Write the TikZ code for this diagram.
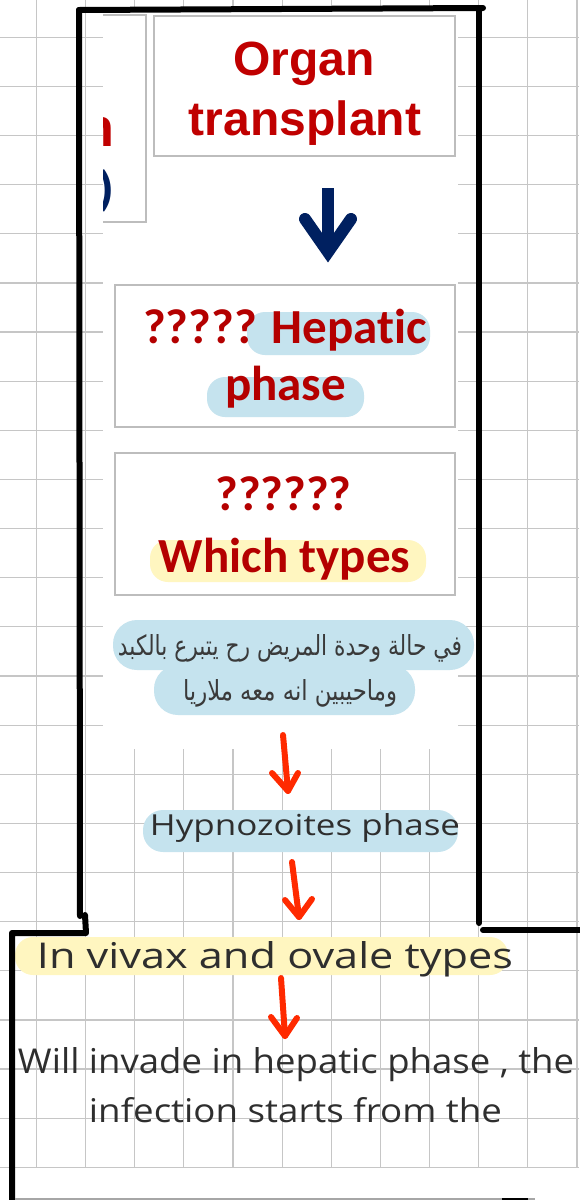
\documentclass[tikz,border=0pt]{standalone}
\usepackage{graphicx}
\usepackage{fontspec}
\setmainfont{Liberation Sans}
\newfontfamily\arialf{Liberation Sans}
\newfontfamily\calf[Ligatures={NoCommon}]{Carlito}
\newfontfamily\handf{Open Sans}
\newfontfamily\arabicfont[Script=Arabic]{DejaVu Sans}
\TeXXeTstate=1
\definecolor{gridc}{HTML}{C6C6C6}
\definecolor{boxc}{HTML}{BDBDBD}
\definecolor{darkred}{HTML}{C00000}
\definecolor{qred}{HTML}{B40000}
\definecolor{navyc}{HTML}{002060}
\definecolor{hlblue}{HTML}{C5E3EE}
\definecolor{hlyellow}{HTML}{FFF6C0}
\definecolor{pen}{HTML}{2E2E2E}
\definecolor{arabc}{HTML}{3A3A3A}
\definecolor{redpen}{HTML}{FF2A00}
\tikzset{
  gridline/.style={draw=gridc, line width=1.2pt},
  graybox/.style={draw=boxc, line width=2pt, inner sep=0pt, outer sep=0pt},
  boxtxt/.style={anchor=base, inner sep=0pt, text=darkred, font=\arialf\bfseries\fontsize{48}{56}\selectfont},
  qtxt/.style={anchor=base, inner sep=0pt, text=qred, font=\calf\bfseries\fontsize{49}{56}\selectfont},
  hand/.style={anchor=base, inner sep=0pt, text=pen},
  artxt/.style={anchor=base, inner sep=0pt, text=arabc},
  hlb/.style={fill=hlblue, rounded corners=18pt},
  hly/.style={fill=hlyellow, rounded corners=18pt},
  redarrow/.style={draw=redpen, line width=6pt, line cap=round, line join=round},
  framel/.style={draw=black, line width=6pt, line cap=round, line join=round},
}
\begin{document}
\begin{tikzpicture}[x=1pt,y=-1pt]
\useasboundingbox (0,0) rectangle (579,1200);
% grid
\foreach \i in {0,...,11} \draw[gridline] (36.5+49.13*\i,0) -- (36.5+49.13*\i,1167.3);
\foreach \j in {0,...,23} \draw[gridline] (0,37.3+49.13*\j) -- (579,37.3+49.13*\j);
% pasted screenshot area
\fill[white] (103,11) rectangle (458,749);
% partial left box
\draw[draw=boxc, line width=2pt] (103,15) -- (146,15) -- (146,222) -- (103,222);
\begin{scope}
\clip (103,0) rectangle (150,240);
\node[anchor=base east, inner sep=0pt, text=darkred, font=\arialf\bfseries\fontsize{54}{60}\selectfont] (pn) at (115,146) {n};
\node[anchor=base east, inner sep=0pt, text=navyc, font=\arialf\bfseries\fontsize{45}{50}\selectfont] (pp) at (114,202) {)};
\end{scope}
% boxes
\node[graybox, minimum width=301pt, minimum height=140pt] (organbox) at (304.5,86) {};
\node[graybox, minimum width=340pt, minimum height=142pt] (hepbox) at (285,356) {};
\node[graybox, minimum width=340pt, minimum height=142pt] (typebox) at (285,524) {};
% highlights
\path[hlb] (247,312) rectangle (430,355);
\path[hlb] (207,377) rectangle (364,417);
\path[hly] (150,540) rectangle (426,582);
\path[hlb, rounded corners=24pt] (113,620) rectangle (474,670);
\path[hlb, rounded corners=24pt] (154,665) rectangle (415,715);
\path[hlb, rounded corners=20pt] (143,810) rectangle (458,852);
\path[hly] (15,937) rectangle (508,975);
% box texts
\node[boxtxt] (organ) at (303.7,75) {Organ};
\node[boxtxt] (transplant) at (305,135) {transplant};
\node[qtxt] (hep1) at (285,343) {????? Hepatic};
\node[qtxt] (hep2) at (285.5,400) {phase};
\node[qtxt] (typ1) at (283.5,510) {??????};
\node[qtxt] (typ2) at (284.5,572) {Which types};
% arabic
\node[artxt] (ar1) at (290,655) {\resizebox{344pt}{21pt}{\arabicfont\beginR في حالة وحدة المريض رح يتبرع بالكبد\endR}};
\node[artxt] (ar2) at (290,700) {\resizebox{214pt}{21pt}{\arabicfont\beginR وماحيبين انه معه ملاريا\endR}};
% handwritten texts
\node[hand] (hyp) at (305,835) {\resizebox{310pt}{22pt}{\handf Hypnozoites phase}};
\node[hand] (viv) at (275,968) {\resizebox{476pt}{27pt}{\handf In vivax and ovale types}};
\node[hand] (will) at (296,1073) {\resizebox{556pt}{26pt}{\handf Will invade in hepatic phase , the}};
\node[hand] (inf) at (295.5,1122) {\resizebox{413pt}{25pt}{\handf infection starts from the}};
% navy arrow
\coordinate (nvs) at (328,188);
\coordinate (nvm) at (328,245);
\coordinate (nve) at (328,252);
\coordinate (nvl) at (305,219);
\coordinate (nvr) at (351,219);
\draw[navyc, line width=12pt] (nvs) -- (nvm);
\draw[navyc, line width=12pt, line cap=round, line join=miter] (nvl) -- (nve) -- (nvr);
% red arrows
\coordinate (a1s) at (283,735); \coordinate (a1e) at (288,791);
\coordinate (a1l) at (272,773); \coordinate (a1r) at (298,773);
\draw[redarrow] (a1s) -- (a1e);
\draw[redarrow] (a1l) -- (a1e) -- (a1r);
\coordinate (a2s) at (292,862); \coordinate (a2e) at (299,917);
\coordinate (a2l) at (285,900); \coordinate (a2r) at (312,899);
\draw[redarrow] (a2s) -- (a2e);
\draw[redarrow] (a2l) -- (a2e) -- (a2r);
\coordinate (a3s) at (281,978); \coordinate (a3e) at (285,1036);
\coordinate (a3l) at (271,1017); \coordinate (a3r) at (297,1018);
\draw[redarrow] (a3s) -- (a3e);
\draw[redarrow] (a3l) -- (a3e) -- (a3r);
% frame lines
\draw[framel] (79,10) -- (483,8);
\draw[framel] (79,10) -- (80,916);
\draw[framel] (85,915) -- (86,933) -- (12,933) -- (12,1204);
\draw[framel] (479,8) -- (479,923);
\draw[framel] (483,930) -- (583,930);
\draw[draw=gray!70, line width=1.5pt] (15,1199) -- (535,1199);
\draw[black, line width=3pt] (502,1199) -- (528,1199);
\end{tikzpicture}
\end{document}
